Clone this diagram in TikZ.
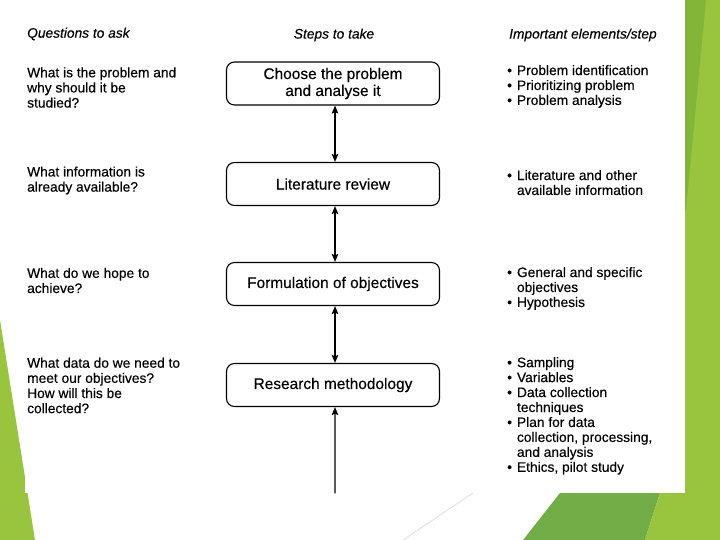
\documentclass[tikz,border=0pt]{standalone}
\usepackage{fontspec}
\setmainfont{Liberation Sans}[FakeBold=0.3]
\usepackage{tikz}
\usetikzlibrary{arrows.meta}
\definecolor{limegr}{rgb}{0.6,0.77,0.24}
\definecolor{darklime}{rgb}{0.51,0.71,0.22}
\definecolor{midgr}{rgb}{0.45,0.68,0.28}
\definecolor{faintgr}{rgb}{0.84,0.84,0.84}

\begin{document}
\begin{tikzpicture}[line cap=round,line join=round,>={Stealth[length=8bp,width=6.5bp,inset=1.5bp]},x=1bp,y=-1bp,
  stepbox/.style={draw,line width=1.1bp,rounded corners=8bp,minimum width=213bp,minimum height=43bp,align=center,inner sep=0pt,font=\fontsize{15.5}{17}\selectfont},
  question/.style={anchor=west,align=left,inner sep=0pt,font=\fontsize{13.8}{15.2}\selectfont},
  elements/.style={anchor=west,inner sep=0pt,font=\fontsize{13.8}{15}\selectfont},
  heading/.style={inner sep=0pt,font=\fontsize{13.8}{15}\selectfont\itshape},
  link/.style={line width=1.1bp}]
\useasboundingbox (0,0) rectangle (720,540);
% slide background
\fill[limegr] (0,320) -- (35,540) -- (0,540) -- cycle;
\fill[midgr] (523,540) -- (560,493) -- (660,493) -- (645,540) -- cycle;
\fill[limegr] (645,540) -- (660,493) -- (685,493) -- (685,0) -- (720,0) -- (720,540) -- cycle;
\fill[darklime] (685,0) -- (706,0) -- (686,210) -- (685,210) -- cycle;
\draw[faintgr,line width=0.6bp] (403,540) -- (473,493);
\fill[white] (25,0) rectangle (685,493);
% column headings
\node[heading,anchor=west] (hquest) at (27,34) {Questions to ask};
\node[heading] (hsteps) at (334,35) {Steps to take};
\node[heading,anchor=west] (helem) at (509,35) {Important elements/step};
% steps
\node[stepbox] (choose) at (333,83.5) {Choose the problem\\and analyse it};
\node[stepbox] (litrev) at (333,184) {Literature review};
\node[stepbox] (formul) at (333,284) {Formulation of objectives};
\node[stepbox] (method) at (333,385) {Research methodology};
\coordinate (inflow) at (335,493);
\draw[link,<->] ([xshift=2bp]choose.south) -- ([xshift=2bp]litrev.north);
\draw[link,<->] ([xshift=2bp]litrev.south) -- ([xshift=2bp]formul.north);
\draw[link,<->] ([xshift=2bp]formul.south) -- ([xshift=2bp]method.north);
\draw[link,->] (inflow) -- ([xshift=2bp]method.south);
% questions
\node[question] (q1) at (27,87.5) {What is the problem and\\why should it be\\studied?};
\node[question] (q2) at (27,180.5) {What information is\\already available?};
\node[question] (q3) at (27,280.5) {What do we hope to\\achieve?};
\node[question] (q4) at (27,385.5) {What data do we need to\\meet our objectives?\\How will this be\\collected?};
% elements
\node[elements] (e1) at (507,87) {\begin{tabular}{@{}l@{\hspace{5bp}}l@{}}
\textbullet & Problem identification\\
\textbullet & Prioritizing problem\\
\textbullet & Problem analysis
\end{tabular}};
\node[elements] (e2) at (507,184.5) {\begin{tabular}{@{}l@{\hspace{5bp}}l@{}}
\textbullet & Literature and other\\
 & available information
\end{tabular}};
\node[elements] (e3) at (507,289) {\begin{tabular}{@{}l@{\hspace{5bp}}l@{}}
\textbullet & General and specific\\
 & objectives\\
\textbullet & Hypothesis
\end{tabular}};
\node[elements] (e4) at (507,416.5) {\begin{tabular}{@{}l@{\hspace{5bp}}l@{}}
\textbullet & Sampling\\
\textbullet & Variables\\
\textbullet & Data collection\\
 & techniques\\
\textbullet & Plan for data\\
 & collection, processing,\\
 & and analysis\\
\textbullet & Ethics, pilot study
\end{tabular}};
\end{tikzpicture}
\end{document}
